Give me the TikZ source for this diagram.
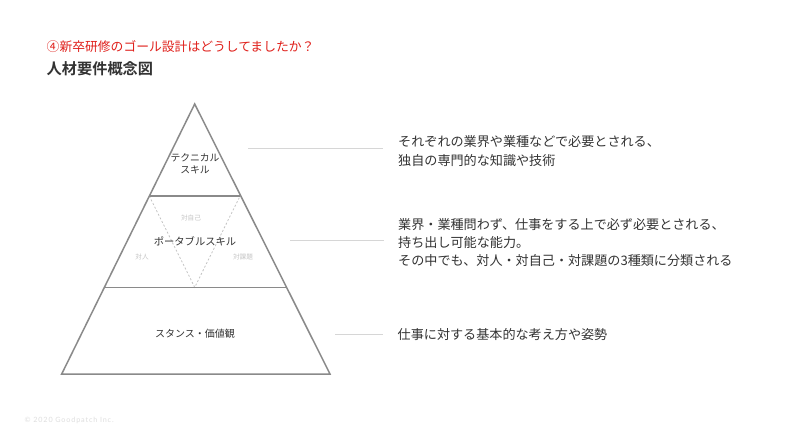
\documentclass[tikz,border=0pt]{standalone}
\usepackage{fontspec}
\setmainfont{Noto Sans CJK JP}[BoldFont={Noto Sans CJK JP Bold}]
\newfontfamily\latofont{Lato}[LetterSpace=12]
\definecolor{titlered}{HTML}{E0201B}
\definecolor{txt}{HTML}{333333}
\definecolor{pyr}{HTML}{8A8A8A}
\definecolor{faint}{HTML}{C4C4C4}
\definecolor{conn}{HTML}{D6D6D6}
\begin{document}
\begin{tikzpicture}[x=1pt,y=-1pt,
  desc/.style={anchor=base west,inner sep=0,text=txt,font=\fontsize{13.1}{19}\selectfont},
  plabel/.style={anchor=base,inner sep=0,text=txt,font=\fontsize{9.8}{12}\selectfont},
  sublabel/.style={anchor=base,inner sep=0,text=faint,font=\fontsize{6.6}{8}\selectfont},
  pyrline/.style={draw=pyr,line width=1.5pt,line join=miter},
  divider/.style={draw=pyr,line width=1.5pt},
  dashline/.style={draw=faint,line width=0.8pt,dash pattern=on 2pt off 2pt},
  connector/.style={draw=conn,line width=0.8pt}]
\useasboundingbox[fill=white] (0,0) rectangle (790,444);
% title
\node[anchor=base west,inner sep=0,text=titlered,font=\fontsize{12.8}{15}\selectfont] (title) at (46.5,51.5) {④新卒研修のゴール設計はどうしてましたか？};
\node[anchor=base west,inner sep=0,text=txt,font=\fontsize{15.2}{18}\selectfont\bfseries] (subtitle) at (46.5,74.2) {人材要件概念図};
% pyramid
\coordinate (apex) at (194.7,104);
\coordinate (bl) at (61.7,374);
\coordinate (br) at (330,374);
\coordinate (l1a) at (149.3,196);
\coordinate (l1b) at (240.1,196);
\coordinate (l2a) at (104.3,287.3);
\coordinate (l2b) at (285.5,287.3);
\coordinate (vtip) at (194.7,287.3);
\draw[dashline] (l1a) -- (vtip) -- (l1b);
\draw[pyrline] (apex) -- (bl) -- (br) -- cycle;
\draw[divider] (l1a) -- (l1b);
\draw[divider] (l2a) -- (l2b);
% pyramid labels
\node[plabel] (tech1) at (195,161.8) {テクニカル};
\node[plabel] (tech2) at (195,173.8) {スキル};
\node[plabel,font=\fontsize{10.3}{12}\selectfont] (port) at (195,245.6) {ポータブルスキル};
\node[sublabel] (self) at (191,220.5) {対自己};
\node[sublabel] (pers) at (142,259.5) {対人};
\node[sublabel] (task) at (243,259.5) {対課題};
\node[plabel,font=\fontsize{10}{12}\selectfont] (stance) at (195,337.8) {スタンス・価値観};
% descriptions
\node[desc] (t1a) at (398,146.7) {それぞれの業界や業種などで必要とされる、};
\node[desc] (t1b) at (398,165.7) {独自の専門的な知識や技術};
\node[desc] (t2a) at (398,229.3) {業界・業種問わず、仕事をする上で必ず必要とされる、};
\node[desc] (t2b) at (398,247.1) {持ち出し可能な能力。};
\node[desc] (t2c) at (398,265.0) {その中でも、対人・対自己・対課題の3種類に分類される};
\node[desc] (t3) at (397.5,339.0) {仕事に対する基本的な考え方や姿勢};
% connectors
\coordinate (c1s) at (248,148.5);
\coordinate (c1e) at (383,148.5);
\coordinate (c2s) at (290,240.7);
\coordinate (c2e) at (384,240.7);
\coordinate (c3s) at (335,334);
\coordinate (c3e) at (383,334);
\draw[connector] (c1s) -- (c1e);
\draw[connector] (c2s) -- (c2e);
\draw[connector] (c3s) -- (c3e);
% footer
\node[anchor=base west,inner sep=0,text=black!13,font=\latofont\fontsize{7.2}{8}\selectfont] (copy) at (24.5,422.5) {© 2020 Goodpatch Inc.};
\end{tikzpicture}
\end{document}
